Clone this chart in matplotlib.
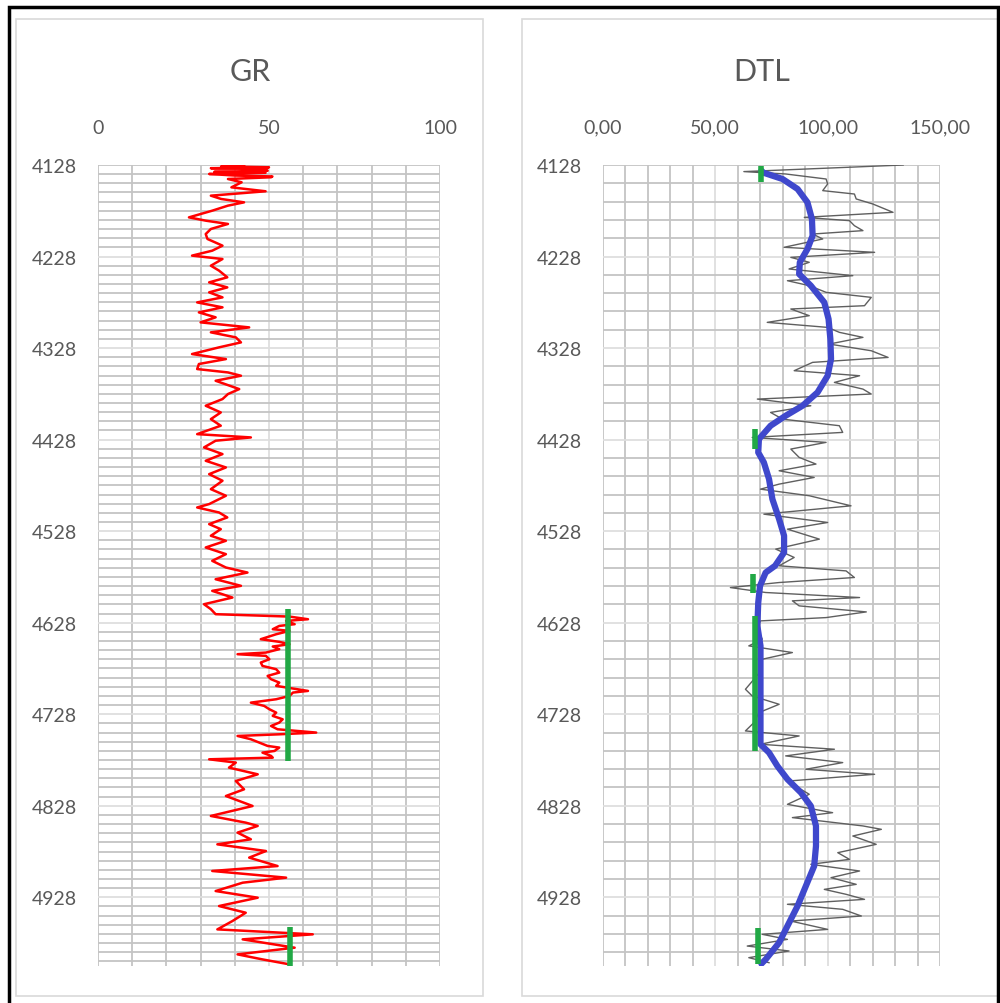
import matplotlib
matplotlib.use("Agg")
import matplotlib.pyplot as plt
from matplotlib.patches import Rectangle
import numpy as np

plt.rcParams['font.family'] = ['Lato', 'DejaVu Sans']

# ---------------- data ----------------
gr_depth = [4128.7, 4129.5, 4130.5, 4131.5, 4132.3, 4133.0, 4134.2, 4135.5, 4136.5, 4137.8,
            4139.5, 4140.5, 4141.4, 4143.3, 4146.9, 4152.4, 4156.7, 4161.5,
            4165.1, 4168.8, 4172.4, 4177.9, 4185.2, 4188.8, 4192.4, 4197.9, 4203.4, 4208.8,
            4216.1, 4221.6, 4227.0, 4230.7, 4238.0, 4243.4, 4250.7, 4256.2, 4261.7, 4267.1,
            4272.6, 4278.1, 4283.5, 4289.0, 4294.4, 4299.9, 4305.4, 4310.8, 4316.3, 4321.8,
            4327.2, 4334.5, 4340.0, 4345.4, 4350.9, 4354.6, 4358.2, 4363.7, 4372.8, 4378.2,
            4383.7, 4391.0, 4398.3, 4405.6, 4412.8, 4422.0, 4425.6, 4429.2, 4436.5, 4443.8,
            4451.1, 4458.4, 4465.7, 4472.9, 4482.1, 4489.3, 4498.4, 4502.1, 4507.6, 4513.0,
            4520.3, 4525.8, 4533.0, 4538.5, 4545.8, 4553.1, 4560.4, 4567.7, 4573.2, 4580.5,
            4587.7, 4593.2, 4600.5, 4607.8, 4613.2, 4618.7,
            4621.3, 4624.2, 4626.0, 4629.6, 4631.5, 4635.1, 4636.9, 4640.6, 4646.0, 4648.9,
            4651.5, 4654.0, 4656.9, 4660.6, 4662.4, 4664.2, 4667.9, 4671.5, 4675.2, 4678.8,
            4682.5, 4686.1, 4689.7, 4693.4, 4697.0, 4702.5, 4704.3, 4708.0, 4711.6, 4715.3,
            4718.9, 4722.5, 4726.2, 4729.8, 4733.5, 4737.1, 4740.8, 4744.4, 4748.0, 4749.9,
            4751.7, 4755.3, 4759.0, 4762.6, 4764.4, 4768.1, 4769.9, 4773.5, 4775.4,
            4777.2, 4780.8, 4786.3, 4793.6, 4800.9, 4810.0, 4817.3, 4828.2,
            4839.1, 4846.4, 4850.0, 4857.3, 4864.6, 4870.1, 4877.4, 4884.6, 4893.8, 4899.2,
            4906.5, 4912.0, 4921.1, 4928.4, 4937.5, 4944.8, 4953.9, 4963.0, 4968.4, 4973.9,
            4983.0, 4990.3, 4995.8, 5001.2]
gr_value = [42.7, 36.0, 50.0, 33.0, 45.0, 47.0, 49.6, 34.0, 49.0, 32.5,
            40.0, 51.0, 50.6, 38.0, 42.0, 39.0, 49.0, 33.0,
            36.0, 42.7, 38.0, 33.4, 26.6, 31.5, 38.0, 33.0, 31.5, 32.0,
            36.4, 33.4, 27.5, 36.4, 33.0, 35.4, 37.8, 32.5, 37.8, 32.5,
            36.4, 29.0, 36.4, 29.5, 34.4, 30.0, 44.2, 33.0, 40.3, 41.8,
            35.4, 27.5, 37.4, 29.5, 29.0, 38.0, 41.8, 34.4, 41.3, 38.0,
            36.4, 31.5, 35.9, 33.0, 35.9, 29.0, 44.7, 34.4, 31.0, 36.4,
            31.5, 37.4, 32.5, 36.4, 33.0, 37.4, 32.5, 29.0, 35.4, 37.8,
            32.5, 35.9, 33.0, 37.4, 31.5, 37.4, 33.4, 37.4, 43.7, 34.4,
            41.8, 33.4, 39.3, 31.0, 33.0, 34.4,
            56.0, 61.4, 55.0, 57.5, 53.0, 51.1, 56.0, 52.1, 47.6, 53.0,
            56.0, 51.1, 53.0, 49.1, 40.8, 49.1, 50.1, 47.6, 48.1, 52.1,
            53.0, 49.6, 50.6, 53.0, 52.1, 61.4, 57.0, 56.0, 52.1, 44.7,
            48.6, 50.1, 52.1, 51.1, 54.0, 53.0, 50.6, 52.5, 63.8, 53.0,
            40.8, 44.7, 47.2, 49.6, 53.0, 51.6, 48.1, 50.6, 51.1,
            32.5, 40.3, 38.3, 46.7, 40.3, 42.7, 37.4, 45.2,
            33.0, 43.2, 46.7, 40.8, 44.7, 34.9, 49.1, 44.2, 52.5, 33.4,
            55.0, 42.3, 34.4, 46.7, 35.4, 43.2, 39.3, 34.9, 62.8, 42.3,
            57.5, 40.8, 48.1, 56.0]

dtl_depth = [4128.0, 4135.2, 4137.8, 4143.3, 4148.7, 4156.0, 4159.7, 4165.1, 4170.6, 4179.7,
             4185.2, 4188.8, 4194.3, 4199.7, 4203.4, 4208.8, 4217.9, 4223.4, 4228.9, 4234.3,
             4241.6, 4248.9, 4254.4, 4259.8, 4267.1, 4272.6, 4281.7, 4285.3, 4292.6, 4299.9,
             4305.4, 4310.8, 4316.3, 4323.6, 4330.9, 4338.2, 4343.6, 4352.7, 4358.2, 4365.5,
             4372.8, 4378.2, 4383.7, 4391.0, 4398.3, 4405.6, 4412.8, 4420.1, 4425.6, 4431.0,
             4438.3, 4447.4, 4454.7, 4462.0, 4469.3, 4476.6, 4482.1, 4489.3, 4500.3, 4509.4,
             4518.5, 4525.8, 4536.7, 4547.6, 4556.7, 4565.8, 4571.4, 4578.6, 4584.1, 4589.6,
             4595.0, 4600.5, 4604.1, 4609.6, 4616.2, 4622.4, 4626.0, 4635.1, 4646.0, 4653.3,
             4660.6, 4667.9, 4678.8, 4689.7, 4700.7, 4708.0, 4717.1, 4726.2, 4737.1, 4746.2,
             4751.7, 4760.8, 4766.2, 4773.5, 4780.8, 4788.1, 4793.6, 4800.9, 4810.0, 4815.4,
             4826.4, 4835.5, 4840.9, 4850.0, 4853.7, 4861.0, 4870.1, 4879.2, 4886.5, 4891.9,
             4899.2, 4906.5, 4913.8, 4919.3, 4924.7, 4930.2, 4935.6, 4941.1, 4948.4, 4953.9,
             4963.0, 4968.4, 4973.9, 4981.2, 4986.6, 4993.9, 4999.4]
dtl_value = [133.6, 62.7, 81.3, 99.3, 100.0, 97.8, 111.9, 112.7, 120.1, 129.1,
             89.6, 109.7, 111.9, 115.7, 93.3, 97.8, 80.6, 120.9, 83.6, 91.8,
             82.8, 111.2, 82.1, 91.8, 99.3, 119.4, 116.4, 83.6, 91.8, 73.1,
             100.0, 105.2, 115.7, 100.7, 119.4, 126.9, 93.3, 85.1, 114.2, 103.0,
             115.7, 119.4, 68.7, 92.5, 74.6, 79.9, 105.2, 106.7, 66.4, 99.3,
             83.6, 87.3, 94.8, 78.4, 94.0, 78.4, 70.1, 91.8, 110.4, 71.6,
             100.0, 82.1, 96.3, 76.9, 85.1, 78.4, 108.2, 111.9, 78.4, 56.7,
             72.4, 114.2, 84.3, 87.3, 117.2, 99.3, 70.1, 68.7, 70.9, 64.9,
             84.3, 70.9, 70.9, 67.2, 63.4, 66.4, 78.4, 69.4, 67.2, 63.4,
             87.3, 70.1, 103.0, 81.3, 106.7, 90.3, 120.9, 82.8, 88.1, 91.8,
             82.1, 102.2, 84.3, 115.7, 123.9, 111.2, 121.6, 104.5, 109.7, 92.5,
             114.2, 101.5, 112.7, 98.5, 108.2, 116.4, 82.1, 106.7, 115.0, 83.6,
             100.0, 70.9, 82.1, 64.2, 82.8, 64.9, 73.9]

trend_depth = [4134.0, 4136.0, 4143.3, 4154.2, 4168.8, 4187.0, 4205.2, 4219.8, 4234.3, 4247.1,
               4259.8, 4278.1, 4296.3, 4318.1, 4340.0, 4358.2, 4376.4, 4391.0, 4401.9, 4412.8,
               4427.4, 4442.0, 4452.9, 4471.1, 4493.0, 4514.9, 4533.0, 4551.3, 4565.8, 4573.2,
               4587.7, 4606.0, 4631.5, 4653.3, 4686.1, 4722.5, 4760.8, 4769.9, 4784.5, 4799.0,
               4813.6, 4828.2, 4850.0, 4871.9, 4893.8, 4915.6, 4937.5, 4959.3, 4977.5, 4995.8,
               5000.5]
trend_value = [70.5, 70.9, 79.9, 86.6, 91.0, 93.0, 93.3, 91.0, 87.6, 87.3,
               92.5, 98.5, 100.4, 101.2, 101.5, 100.0, 95.5, 88.8, 81.3, 74.6,
               69.4, 69.1, 71.6, 73.9, 75.4, 78.4, 80.6, 80.6, 76.6, 72.4,
               69.9, 69.1, 68.7, 70.1, 70.1, 70.1, 70.1, 73.9, 77.6, 82.1,
               88.1, 92.5, 94.8, 94.8, 94.0, 90.3, 86.6, 82.1, 78.4, 72.4,
               70.5]

# marker intervals (value, top depth, bottom depth)
gr_marks_value = [55.6, 56.0]
gr_marks_top = [4613.0, 4960.0]
gr_marks_bottom = [4779.0, 5003.0]

dtl_marks_value = [70.2, 67.6, 66.6, 67.6, 69.1]
dtl_marks_top = [4129.0, 4416.0, 4575.0, 4620.5, 4961.0]
dtl_marks_bottom = [4147.0, 4438.0, 4595.0, 4768.0, 5001.0]

depth_ticks = [4128, 4228, 4328, 4428, 4528, 4628, 4728, 4828, 4928]
gr_ticks = [0, 50, 100]
gr_tick_labels = ["0", "50", "100"]
dtl_ticks = [0, 50, 100, 150]
dtl_tick_labels = ["0,00", "50,00", "100,00", "150,00"]

# ---------------- layout ----------------
W, H = 1000, 1004
fig = plt.figure(figsize=(W / 100, H / 100), dpi=100)
fig.patch.set_facecolor("white")

def fx(x):
    return x / W

def fy(y):
    return 1 - y / H

DMIN, DMAX = 4128, 5003
TXT = "#595959"
MINOR_C = "#c4c4c4"
MAJOR_C = "#dedede"

# panel frames
for (x0, x1) in [(16, 483), (522, 998)]:
    fig.add_artist(Rectangle((fx(x0), fy(997)), fx(x1) - fx(x0), fy(20) - fy(997),
                             transform=fig.transFigure, fill=False,
                             edgecolor="#d9d9d9", linewidth=1.2))
# outer black border
fig.add_artist(Rectangle((fx(9), fy(1010)), fx(998) - fx(9), fy(8) - fy(1010),
                         transform=fig.transFigure, fill=False,
                         edgecolor="black", linewidth=2.5))


def make_axis(x0, x1, xmax, xminor_step, dminor_step, xticks, xlabels):
    ax = fig.add_axes([fx(x0), fy(967), fx(x1) - fx(x0), fy(166) - fy(967)])
    ax.set_xlim(0, xmax)
    ax.set_ylim(DMAX, DMIN)
    for s in ax.spines.values():
        s.set_visible(False)
    for v in np.arange(0, xmax + 0.01, xminor_step):
        col = MAJOR_C if (v % 50 == 0 and 0 < v < xmax) else MINOR_C
        ax.axvline(v, color=col, linewidth=1.3, zorder=0)
    for d in np.arange(DMIN, DMAX, dminor_step):
        col = MAJOR_C if ((d - DMIN) % 100 == 0 and d > DMIN) else MINOR_C
        ax.axhline(d, color=col, linewidth=1.3, zorder=0)
    ax.xaxis.tick_top()
    ax.set_xticks(xticks)
    ax.set_xticklabels(xlabels)
    ax.set_yticks(depth_ticks)
    ax.set_yticklabels([str(t) for t in depth_ticks])
    ax.tick_params(axis="x", length=0, pad=21, labelsize=14, labelcolor=TXT)
    ax.tick_params(axis="y", length=0, pad=15, labelsize=14, labelcolor=TXT)
    ax.set_facecolor("white")
    return ax

ax1 = make_axis(98, 440, 100, 10, 10, gr_ticks, gr_tick_labels)
ax1.plot(gr_value, gr_depth, color="#ff0000", linewidth=1.8, zorder=3)
for v, t, b in zip(gr_marks_value, gr_marks_top, gr_marks_bottom):
    ax1.plot([v, v], [t, b], color="#21a845", linewidth=4, solid_capstyle="butt", zorder=4)

ax2 = make_axis(603, 940, 150, 10, 20, dtl_ticks, dtl_tick_labels)
ax2.plot(dtl_value, dtl_depth, color="#5f5f5f", linewidth=1.0, zorder=3)
ax2.plot(trend_value, trend_depth, color="#3f48cc", linewidth=4.5, zorder=4,
         solid_capstyle="round", solid_joinstyle="round")
for v, t, b in zip(dtl_marks_value, dtl_marks_top, dtl_marks_bottom):
    ax2.plot([v, v], [t, b], color="#21a845", linewidth=4, solid_capstyle="butt", zorder=5)

fig.text(fx(250), fy(72), "GR", ha="center", va="center", fontsize=22, color=TXT)
fig.text(fx(762), fy(72), "DTL", ha="center", va="center", fontsize=22, color=TXT)

fig.savefig("out.png", dpi=100, facecolor="white")
